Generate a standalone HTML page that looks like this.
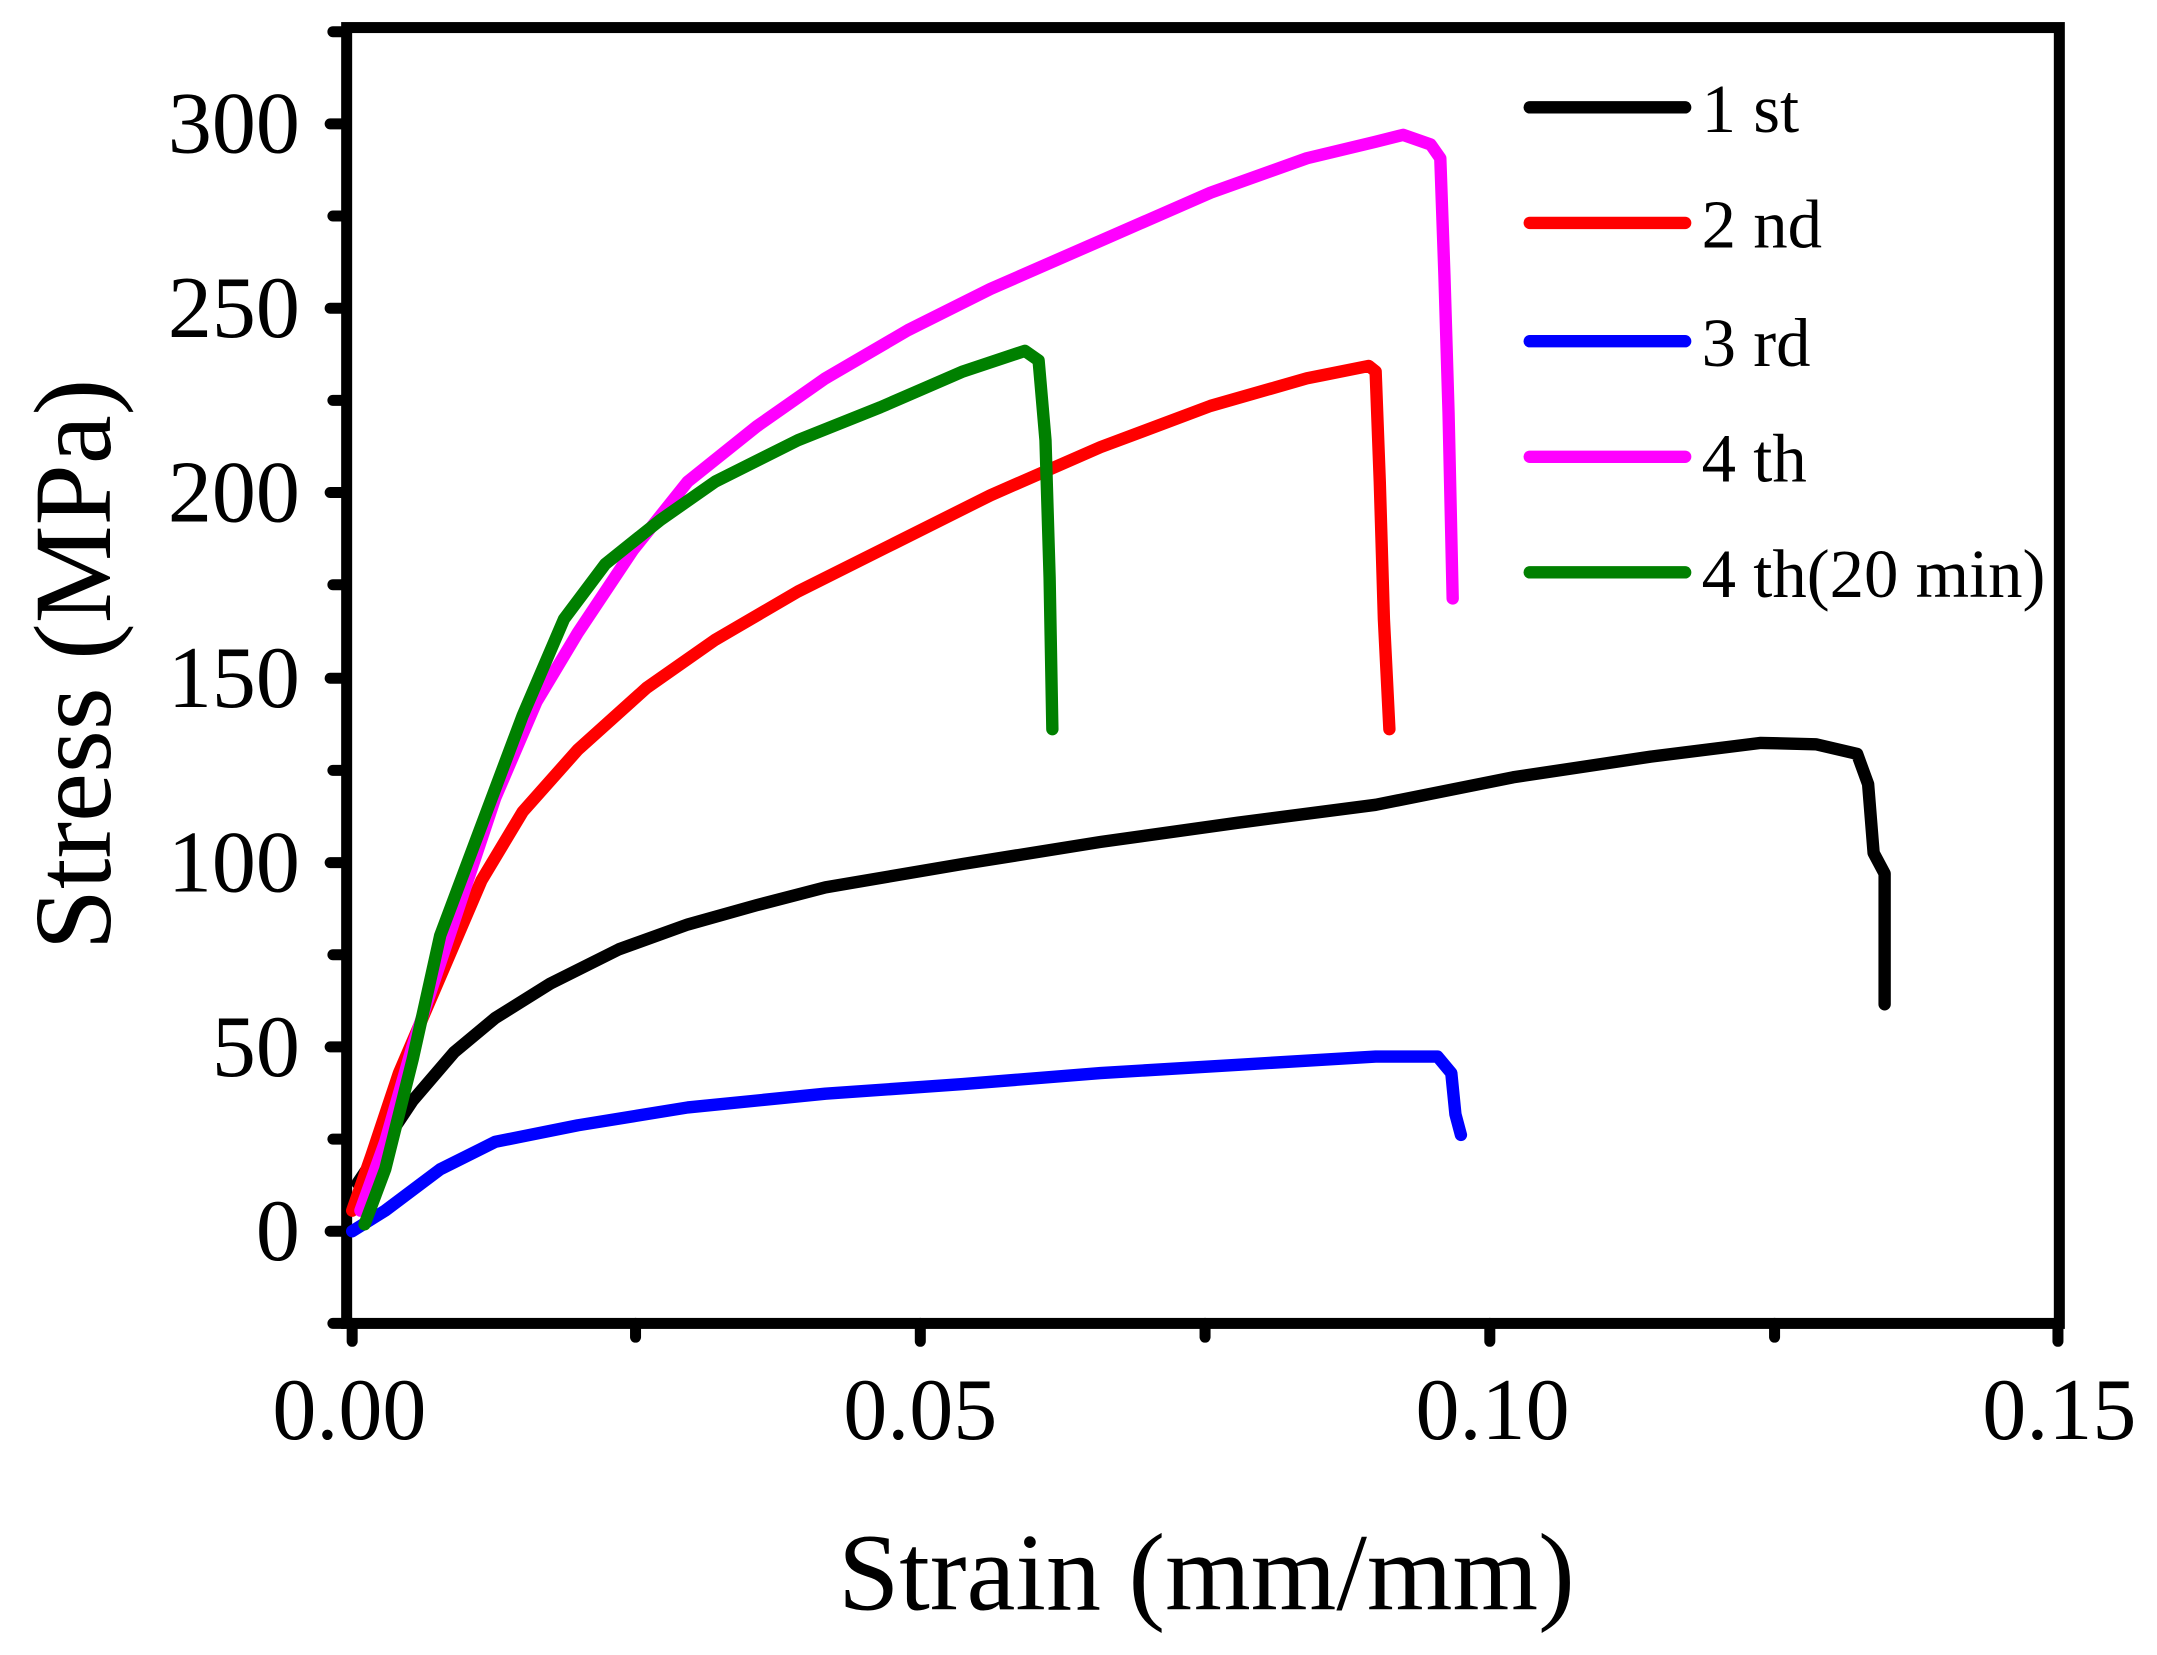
<!DOCTYPE html>
<html><head><meta charset="utf-8"><style>html,body{margin:0;padding:0;background:#fff}svg{display:block}</style></head>
<body>
<svg width="2157" height="1655" viewBox="0 0 1568 1203" xmlns="http://www.w3.org/2000/svg" font-family="'Liberation Serif', serif">
<rect width="1568" height="1203" fill="#fff"/>
<g stroke="#000" stroke-width="8" stroke-linecap="round">
<line x1="240" y1="895" x2="250" y2="895"/><line x1="240" y1="761" x2="250" y2="761"/><line x1="240" y1="627" x2="250" y2="627"/><line x1="240" y1="493" x2="250" y2="493"/><line x1="240" y1="358" x2="250" y2="358"/><line x1="240" y1="224" x2="250" y2="224"/><line x1="240" y1="90" x2="250" y2="90"/>
<line x1="242" y1="962" x2="250" y2="962"/><line x1="242" y1="828" x2="250" y2="828"/><line x1="242" y1="694" x2="250" y2="694"/><line x1="242" y1="560" x2="250" y2="560"/><line x1="242" y1="425" x2="250" y2="425"/><line x1="242" y1="291" x2="250" y2="291"/><line x1="242" y1="157" x2="250" y2="157"/><line x1="242" y1="23" x2="250" y2="23"/>
<line x1="256" y1="962" x2="256" y2="975"/><line x1="669" y1="962" x2="669" y2="975"/><line x1="1083" y1="962" x2="1083" y2="975"/><line x1="1496" y1="962" x2="1496" y2="975"/>
<line x1="462" y1="962" x2="462" y2="972"/><line x1="876" y1="962" x2="876" y2="972"/><line x1="1290" y1="962" x2="1290" y2="972"/>
</g>
<rect x="252" y="20" width="1245" height="942" fill="none" stroke="#000" stroke-width="8"/>
<g font-size="64" text-anchor="end" fill="#000">
<text x="218" y="916">0</text><text x="218" y="782">50</text><text x="218" y="648">100</text><text x="218" y="514">150</text><text x="218" y="379">200</text><text x="218" y="245">250</text><text x="218" y="111">300</text>
</g>
<g font-size="64" text-anchor="middle" fill="#000">
<text x="254" y="1046">0.00</text><text x="669" y="1046">0.05</text><text x="1085" y="1046">0.10</text><text x="1497" y="1046">0.15</text>
</g>
<text x="877" y="1170" font-size="80" text-anchor="middle">Strain (mm/mm)</text>
<text transform="translate(80,483) rotate(-90)" font-size="80" text-anchor="middle">Stress (MPa)</text>
<g fill="none" stroke-width="9" stroke-linejoin="round" stroke-linecap="round">
<polyline stroke="#000" points="260,860 280,830 300,800 330,765 360,740 400,715 450,690 500,672 550,658 600,645 700,628 800,612 900,598 1000,585 1100,565 1200,550 1280,540 1320,541 1350,548 1358,570 1362,620 1370,635 1370,730"/>
<polyline stroke="#0000ff" points="256,895 280,880 320,850 360,830 420,818 500,805 600,795 700,788 800,780 900,774 1000,768 1045,768 1055,780 1058,810 1062,825"/>
<polyline stroke="#ff0000" points="256,880 270,840 290,780 320,710 350,640 380,590 420,545 470,500 520,465 580,430 650,395 720,360 800,325 880,295 950,275 995,266 1000,270 1003,350 1006,450 1010,530"/>
<polyline stroke="#ff00ff" points="262,880 280,830 300,760 330,670 360,580 390,510 420,460 460,400 500,350 550,310 600,275 660,240 720,210 800,175 880,140 950,115 1000,103 1020,98 1040,105 1047,115 1050,200 1053,300 1056,435"/>
<polyline stroke="#008000" points="265,890 280,850 300,770 320,680 350,600 380,520 410,450 440,410 480,378 520,350 580,320 640,296 700,270 745,255 755,262 760,320 763,420 765,530"/>
</g>
<g stroke-width="9" stroke-linecap="round">
<line x1="1112" y1="78" x2="1225" y2="78" stroke="#000"/>
<line x1="1112" y1="162" x2="1225" y2="162" stroke="#ff0000"/>
<line x1="1112" y1="248" x2="1225" y2="248" stroke="#0000ff"/>
<line x1="1112" y1="332" x2="1225" y2="332" stroke="#ff00ff"/>
<line x1="1112" y1="416" x2="1225" y2="416" stroke="#008000"/>
</g>
<g font-size="50" fill="#000">
<text x="1237" y="96">1 st</text><text x="1237" y="180">2 nd</text><text x="1237" y="266">3 rd</text><text x="1237" y="350">4 th</text><text x="1237" y="434">4 th(20 min)</text>
</g>
</svg>
</body></html>
